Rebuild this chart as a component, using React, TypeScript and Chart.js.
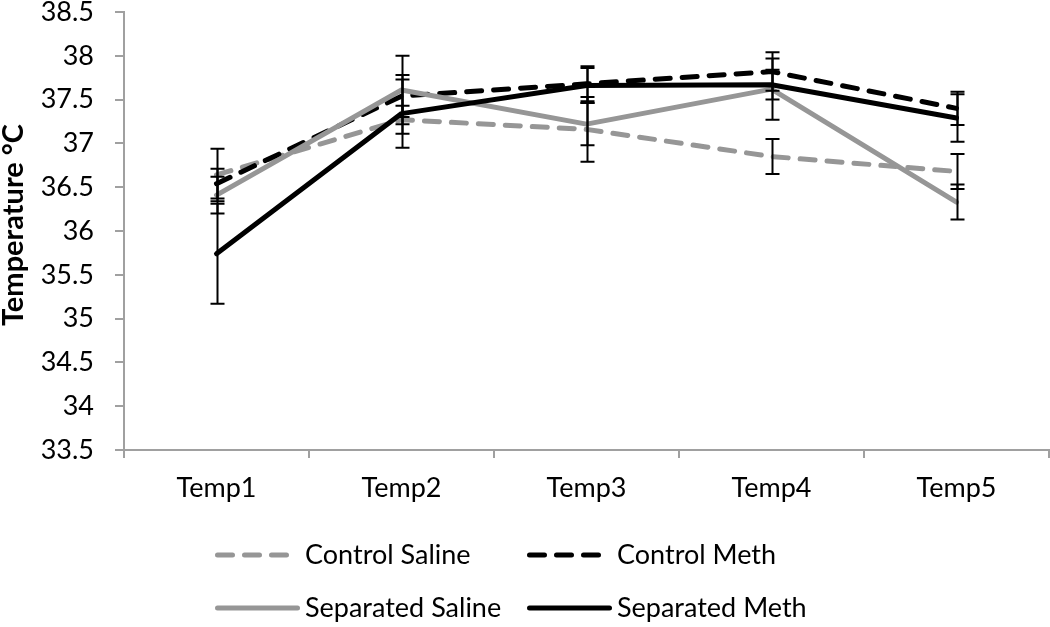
import React, { useEffect, useRef } from 'react';
import { Chart, registerables } from 'chart.js';

Chart.register(...registerables);

const categories = ['Temp1', 'Temp2', 'Temp3', 'Temp4', 'Temp5'];
const seriesNames = ['Control Saline', 'Control Meth', 'Separated Saline', 'Separated Meth'];

const controlSaline = [36.64, 37.27, 37.16, 36.85, 36.68];
const controlSalineErr = [0.3, 0.16, 0.37, 0.2, 0.2];
const controlMeth = [36.54, 37.54, 37.68, 37.82, 37.4];
const controlMethErr = [0.17, 0.24, 0.2, 0.22, 0.19];
const separatedSaline = [36.41, 37.61, 37.22, 37.62, 36.33];
const separatedSalineErr = [0.21, 0.39, 0.24, 0.35, 0.2];
const separatedMeth = [35.74, 37.34, 37.66, 37.67, 37.29];
const separatedMethErr = [0.57, 0.39, 0.2, 0.17, 0.27];

const yMin = 33.5;
const yMax = 38.5;
const yStep = 0.5;
const yAxisTitle = 'Temperature °C';

const FONT = 'Lato, "Liberation Sans", sans-serif';
const GRAY = '#969696';
const AXIS = '#a0a0a0';
const DASH = [15, 12];

const errorBarPlugin = {
  id: 'errorBars',
  afterDatasetsDraw(chart: any) {
    const { ctx } = chart;
    const y = chart.scales.y;
    ctx.save();
    ctx.strokeStyle = '#000';
    ctx.lineWidth = 2;
    ctx.setLineDash([]);
    chart.data.datasets.forEach((ds: any, i: number) => {
      const meta = chart.getDatasetMeta(i);
      meta.data.forEach((pt: any, j: number) => {
        const v = ds.data[j];
        const e = ds.errors[j];
        const x = Math.round(pt.x) + 0.5;
        const y1 = y.getPixelForValue(v + e);
        const y2 = y.getPixelForValue(v - e);
        ctx.beginPath();
        ctx.moveTo(x, y1);
        ctx.lineTo(x, y2);
        ctx.moveTo(x - 7, y1);
        ctx.lineTo(x + 7, y1);
        ctx.moveTo(x - 7, y2);
        ctx.lineTo(x + 7, y2);
        ctx.stroke();
      });
    });
    ctx.restore();
  },
};

const legendTitlePlugin = {
  id: 'legendTitle',
  afterDraw(chart: any) {
    const { ctx, chartArea } = chart;
    ctx.save();
    // y axis title
    ctx.translate(14, (chartArea.top + chartArea.bottom) / 2 - 6);
    ctx.rotate(-Math.PI / 2);
    ctx.fillStyle = '#000';
    ctx.font = `bold 29px ${FONT}`;
    ctx.textAlign = 'center';
    ctx.textBaseline = 'middle';
    ctx.fillText(yAxisTitle, 0, 0);
    ctx.restore();

    // legend
    const cx = chart.width / 2;
    const cols = [cx - 310, cx + 2];
    const rows = [chartArea.bottom + 105, chartArea.bottom + 158];
    chart.data.datasets.forEach((ds: any, i: number) => {
      const x0 = cols[i % 2];
      const yy = rows[Math.floor(i / 2)];
      ctx.save();
      ctx.strokeStyle = ds.borderColor;
      ctx.lineWidth = ds.borderWidth;
      ctx.lineCap = 'round';
      ctx.setLineDash(ds.borderDash || []);
      ctx.beginPath();
      ctx.moveTo(x0 + 2.5, yy);
      ctx.lineTo(x0 + 82.5, yy);
      ctx.stroke();
      ctx.setLineDash([]);
      ctx.fillStyle = '#000';
      ctx.font = `27px ${FONT}`;
      ctx.textAlign = 'left';
      ctx.textBaseline = 'middle';
      ctx.fillText(ds.label, x0 + 90, yy);
      ctx.restore();
    });
  },
};

export default function App() {
  const ref = useRef<HTMLCanvasElement | null>(null);

  useEffect(() => {
    if (!ref.current) return;
    const mk = (label: string, data: number[], errors: number[], color: string, dashed: boolean, order: number) => ({
      label,
      data,
      errors,
      borderColor: color,
      backgroundColor: color,
      borderWidth: 5,
      borderDash: dashed ? DASH : [],
      borderCapStyle: 'round',
      borderJoinStyle: 'round',
      pointRadius: 0,
      tension: 0,
      fill: false,
      order,
    });
    const chart = new Chart(ref.current, {
      type: 'line',
      data: {
        labels: categories,
        datasets: [
          mk(seriesNames[0], controlSaline, controlSalineErr, GRAY, true, 4),
          mk(seriesNames[1], controlMeth, controlMethErr, '#000000', true, 3),
          mk(seriesNames[2], separatedSaline, separatedSalineErr, GRAY, false, 2),
          mk(seriesNames[3], separatedMeth, separatedMethErr, '#000000', false, 1),
        ] as any,
      },
      options: {
        animation: false,
        responsive: false,
        layout: { padding: { top: 12, right: 1, left: 0, bottom: 0 } },
        plugins: {
          legend: { display: false },
          tooltip: { enabled: false },
        },
        scales: {
          x: {
            type: 'category',
            offset: true,
            grid: {
              offset: true,
              drawOnChartArea: false,
              drawTicks: true,
              tickLength: 8,
              color: AXIS,
              lineWidth: 2,
            },
            border: { display: true, color: AXIS, width: 2 },
            ticks: {
              color: '#000',
              font: { family: FONT, size: 27 },
              padding: 14,
              maxRotation: 0,
              autoSkip: false,
            },
            afterFit: (s: any) => {
              s.height = 177;
              s.paddingLeft = 0;
              s.paddingRight = 0;
            },
          },
          y: {
            min: yMin,
            max: yMax,
            grid: {
              drawOnChartArea: false,
              drawTicks: true,
              tickLength: 9,
              color: AXIS,
              lineWidth: 2,
            },
            border: { display: true, color: AXIS, width: 2 },
            ticks: {
              stepSize: yStep,
              color: '#000',
              font: { family: FONT, size: 27 },
              padding: 21,
              callback: (v: any) => String(Math.round(Number(v) * 10) / 10),
            },
            afterFit: (s: any) => {
              s.width = 124;
              s.paddingTop = 0;
              s.paddingBottom = 0;
            },
          },
        },
      } as any,
      plugins: [errorBarPlugin, legendTitlePlugin],
    });
    return () => chart.destroy();
  }, []);

  return (
    <div style={{ position: 'absolute', left: 0, top: 0, width: 1050, height: 627, background: '#fff' }}>
      <canvas ref={ref} width={1050} height={627} style={{ display: 'block' }} />
    </div>
  );
}
